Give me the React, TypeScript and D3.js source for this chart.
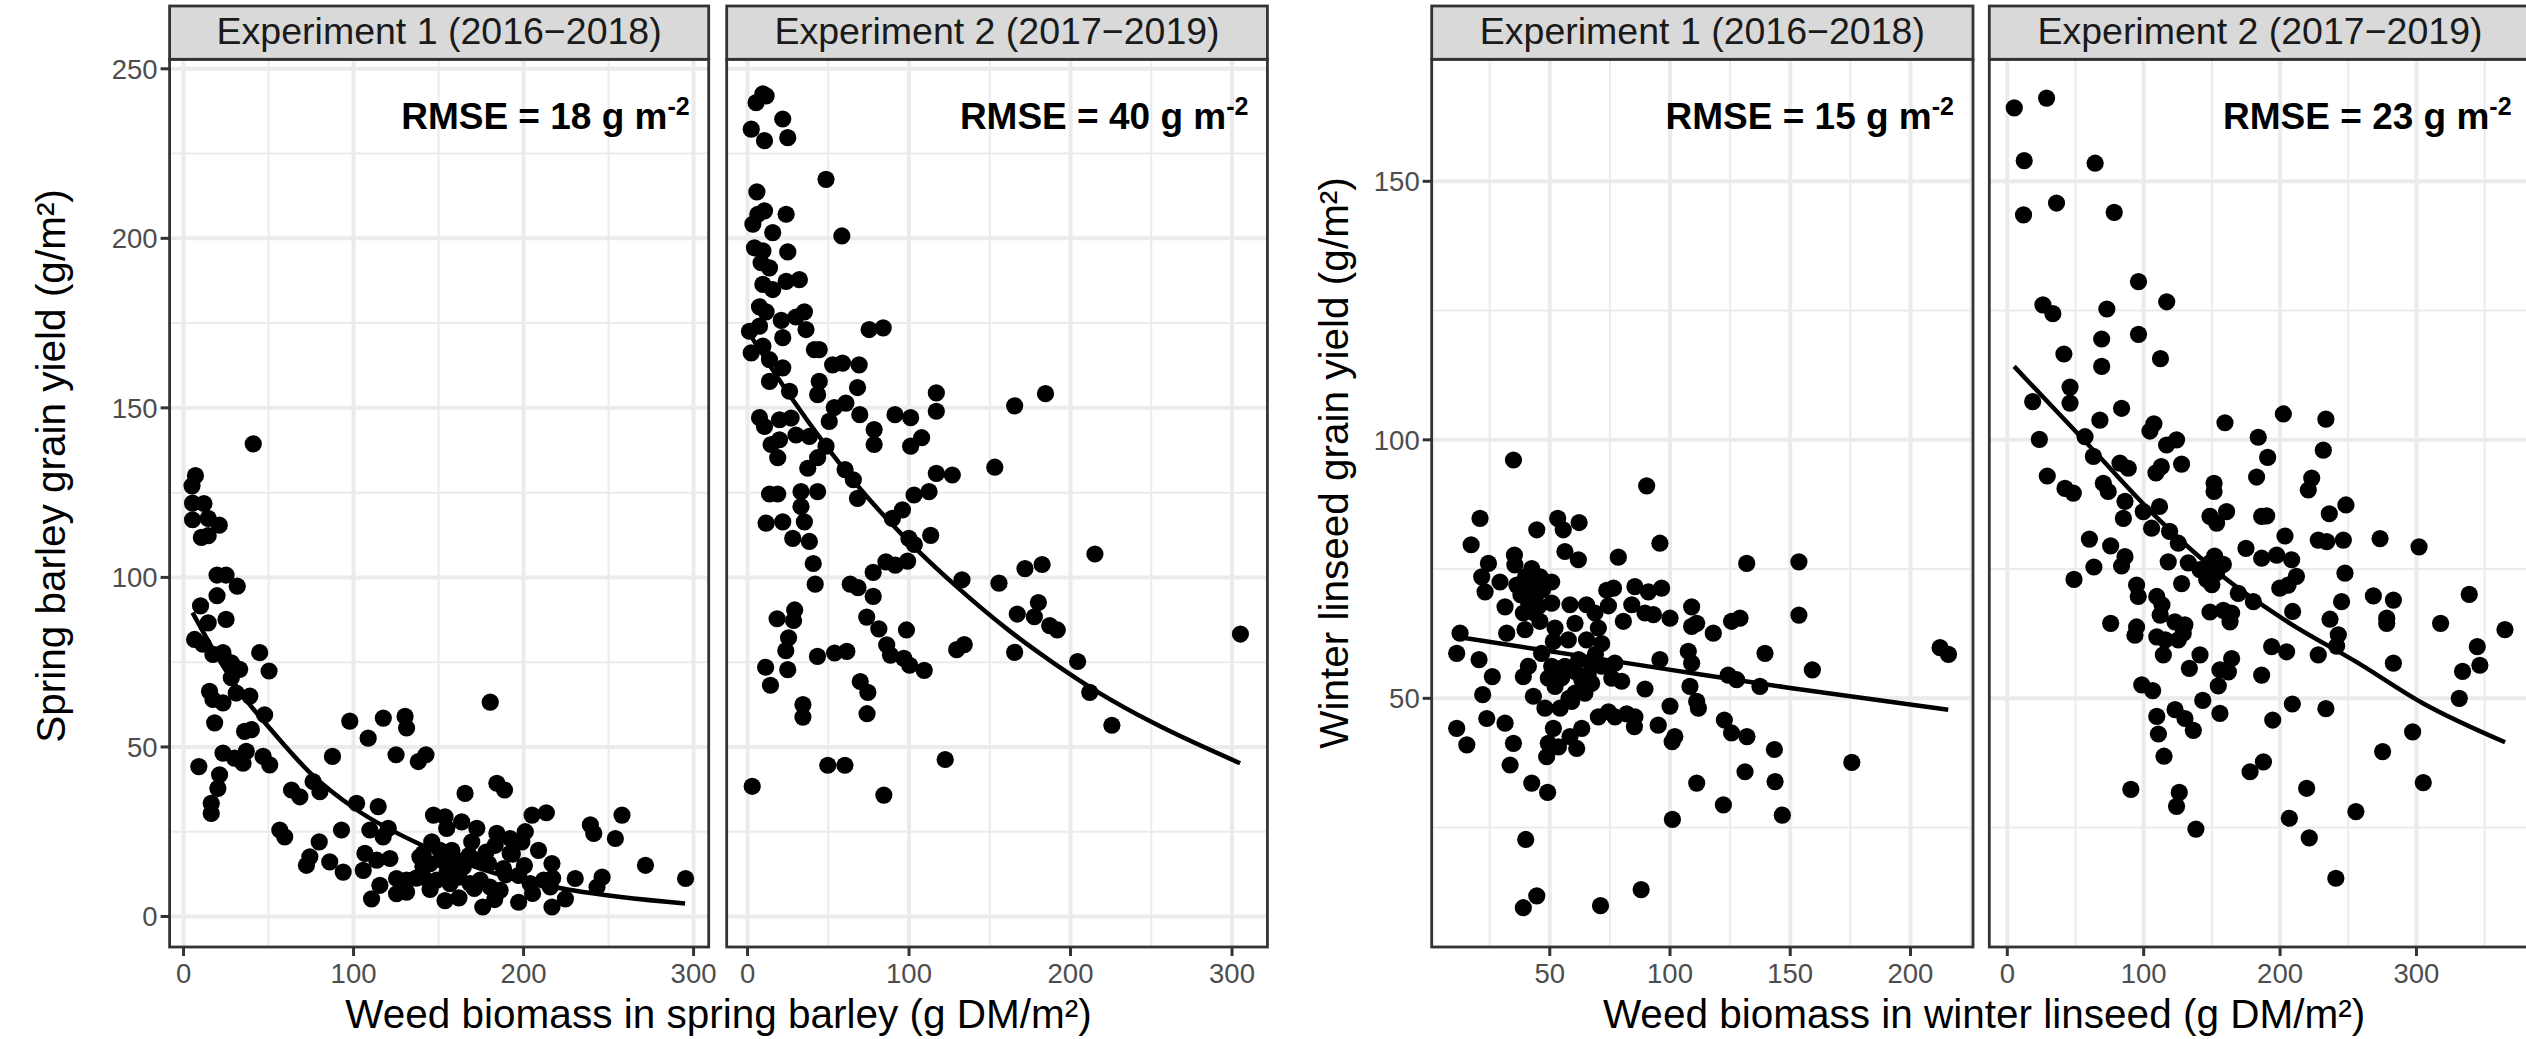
import React from 'react';
import * as d3 from 'd3';

// ---------- DATA ----------
// Spring barley, Experiment 1: [weed biomass g DM/m², grain yield g/m²]
const barleyExp1: [number, number][] = [
  [41,139.4],[7,130],[5,127],[5.3,121.9],[12,121.8],[5.3,117],[14.5,117.4],[21,115.4],[10.5,111.8],[14.5,112.3],
  [19.7,100.7],[25,100.7],[31.6,97.4],[19.7,94.6],[10,91.6],[14.5,86.6],[25,87.6],
  [147,29.9],[153.8,29.4],[154.8,26],[163.6,27.9],[172.5,26],[169.5,22],[146,22],[150.9,19.5],[157.8,19.5],
  [141,18.6],[139,17.6],[145,15.6],[151.9,16.6],[160.7,16.6],[164.6,14.6],[173.5,16.6],[179.4,15.6],[184.3,24.5],
  [183.3,21],[192.1,23],[201,25],[205,29.9],[213.4,30.6],[199,22],[208.8,19.5],[188.2,14.1],[192.1,18.6],[197.1,12.1],
  [216.7,15.6],[230.4,11.2],[246.2,11.6],[243.2,8.7],[239.3,27],[241.3,24.5],[254,23],[257.9,29.9],[271.7,15.1],
  [295.3,11.2],[125.3,11.2],[131.2,10.7],[141,11.6],[148.9,10.7],[156.8,9.7],[162,11.6],[168.6,9.7],[174.5,10.7],
  [180.3,8.7],[186.2,7.7],[203.9,9.7],[211.8,10.7],[215.7,8.7],[224.6,5.2],[216.7,2.8],[197.1,4.2],[176,2.8],
  [153.8,4.7],[110.6,5.2],[115.5,9.2],[125.3,6.7],[131.2,7.2],[105.7,13.6],[93.9,13.1],[86,16.1],[72.3,15.1],
  [74.3,17.6],[79.8,22],[92.9,25.5],[106.7,18.6],[113.6,16.6],[121.4,17.1],[109.6,25.5],[117.4,23.5],[120.4,26],
  [114.5,32.4],[101.8,33.4],[56.6,25.5],[59.5,23.5],[63.5,37.3],[68.4,35.3],[76.2,39.8],[80.2,36.8],[87.6,47.2],
  [97.8,57.6],[108.6,52.6],[117.5,58.5],[130.3,59],[131.2,55.6],[125,47.7],[138.1,45.7],[142.6,47.7],[165.6,36.3],
  [184.3,39.3],[188.8,37.3],[180.4,63.2],[9,44.2],[21.2,41.8],[20.2,37.8],[16.3,33.4],[16.3,30.4],[23.2,48.2],
  [30,46.7],[35,45.2],[36.9,48.7],[46.8,47.2],[50.7,44.7],[18.3,57.1],[35.9,54.6],[39.9,55.1],[15.3,66.4],
  [17.3,64],[23.2,63],[28.1,70.4],[33,72.9],[31,65.9],[39,65],[47.7,59.5],[44.8,77.8],[50.3,72.4],[6.5,81.7],
  [11.4,80.3],[17.3,77.3],[23.2,77.8],[28.1,74.8],
  [136.8,11.3],[140.8,14.8],[157.9,15.4],[171,8.3],[189.5,12.3],[193.4,18.4],[217.1,11.3],[205.3,6.8],
  [200.5,15],[178,19],[168,18],[155,13],[162,5.5],[145,8],[183,5]
];

// Spring barley, Experiment 2
const barleyExp2: [number, number][] = [
  [11.5,242],[5.3,240],[9.5,242.6],[21.8,235.2],[2.3,232.2],[10.5,228.8],[24.9,229.7],[48.6,217.4],[5.8,213.7],
  [6.4,207.1],[10.5,208.1],[3.3,204.2],[23.9,207.1],[15.6,201.7],[58.4,200.7],[4.3,197.2],[9.5,196.3],[24.9,196],
  [8.4,192.8],[13.6,191.3],[9.5,186.4],[15.6,184.9],[23.9,187.3],[32.1,187.8],[7.4,179.8],[11.5,178.3],[20.9,175.8],
  [30,176.8],[35.2,178.3],[1.2,172.6],[7.4,174.1],[21.8,170.7],[36.2,173.1],[2.3,166.2],[9.5,168.2],[13.6,164.2],
  [41.4,167.2],[44.4,167.2],[75.3,173.1],[84,173.6],[21.8,161.8],[13.6,157.8],[26,154.9],[44.4,157.8],[43.4,153.9],
  [52.7,162.7],[58.8,163.2],[69.1,162.7],[68.1,156],[53.7,150.1],[60.9,151.4],[50.6,146],[69.5,148],[91.3,148],
  [101,147.1],[116.9,154.4],[116.9,149],[165.4,150.6],[184.5,154.2],[78.4,143.6],[78.4,139.2],[101,138.7],[107.8,141.2],
  [7.4,147.1],[10.5,144.5],[19.8,146.5],[27,147],[14.6,139.2],[19.8,140.6],[30,142],[38.3,141.6],[18.7,135.3],
  [48.6,138.7],[37.3,132.2],[43.4,135.3],[60.4,131.8],[65.5,128.8],[68.1,123.3],[13.6,124.6],[18.7,124.6],
  [33.1,125.3],[43.4,125.3],[33.1,120.9],[11.5,116],[21.8,116.4],[35.2,116.4],[28,111.5],[38.3,110.6],[95.9,119.9],
  [103.1,124.3],[112.4,125.3],[116.9,130.7],[126.8,130.2],[153.1,132.5],[89.7,117.4],[99.9,111.5],[113.4,112.4],
  [103.3,109.7],[40.7,104.1],[41.9,98],[215.1,106.9],[132.8,99.3],[155.7,98.3],[171.8,102.6],[182.4,103.8],
  [180.1,92.6],[167,89.2],[177.6,88.4],[187.1,85.8],[191.8,84.5],[305.2,83.3],[85.7,104.6],[91.5,103.6],[99.1,104.8],
  [77.8,101.5],[63.6,98],[68.4,97],[77.8,94.4],[73.8,88.3],[81.3,84.8],[98.4,84.5],[86.2,80.1],[88.5,77.1],
  [96.8,76.1],[100.4,74.1],[109.4,72.6],[129.5,78.7],[134.2,80.2],[165.4,77.9],[204.4,75.2],[211.9,66.1],
  [225.6,56.4],[18.3,87.8],[29.2,90.4],[28.5,87.3],[25.4,82.2],[23.7,78.4],[24.9,72.8],[11.2,73.5],[14.2,68.2],
  [43.3,76.7],[53.9,77.7],[61.5,78.2],[69.8,69.3],[74.5,66.1],[74,59.8],[34.3,62.5],[34.3,58.8],[49.7,44.6],
  [60.3,44.6],[122.4,46.3],[2.9,38.4],[84.4,35.8]
];

// Winter linseed, Experiment 1
const linseedExp1: [number, number][] = [
  [90.3,91.1],[34.9,96.1],[21,84.8],[17.3,79.7],[44.6,82.6],[53.3,84.8],[55.6,82.6],[62.2,84],[56.3,78.4],
  [61.9,76.8],[95.8,80],[78.5,77.3],[131.9,76.1],[153.6,76.4],[153.6,66.1],[24.5,76.1],[21.7,73.5],[23.1,70.6],
  [35.3,77.7],[35.5,75.8],[29.3,72.5],[36.3,71.9],[42.5,75.1],[46,73.5],[50.8,72.5],[42.5,71.1],[41.1,68.7],
  [45.3,67.8],[50.8,68.4],[43.2,66.6],[31.4,67.7],[58.4,68.1],[65.3,68.1],[68.8,66.5],[73.7,70.9],[76.5,71.3],
  [85.4,71.6],[91,70.6],[96.5,71.3],[84.1,68.1],[74.4,67.9],[89.6,66.5],[93.1,66.2],[80.6,64.9],[100,65.5],
  [109,67.7],[109,63.9],[111.1,64.5],[118,62.6],[125.6,64.9],[129.1,65.5],[12.7,62.6],[32.1,62.6],[39.7,63.3],
  [45.9,64.9],[52.2,63.6],[60.5,64.5],[65.3,61.3],[70.2,63.6],[71.6,60.6],[51.5,61],[57.7,61.3],[46.6,58.7],
  [11.3,58.7],[20.6,57.5],[26.1,54.2],[39,54.2],[41.1,56.2],[50.8,56.2],[56.3,56.2],[49.4,53.9],[52.2,52.3],
  [60.5,55.2],[63.3,53.6],[67.4,56.2],[71.6,56.2],[60.5,51],[64.6,51],[67.4,52.9],[75.8,53.9],[79.9,53.3],
  [77.1,56.8],[95.8,57.5],[107.6,59.1],[109,56.8],[139.5,58.7],[159.2,55.5],[124.2,54.5],[127.7,53.6],
  [137.4,52.3],[108.3,52.3],[89.6,51.8],[22.1,50.7],[43.2,50.4],[48,48.1],[54.3,48.1],[59.1,49.4],[100,48.5],
  [111.1,49.4],[111.8,48.1],[23.8,46.1],[31.4,45.2],[11.3,44.2],[15.5,41],[34.9,41.3],[33.5,37.1],[70.2,46.4],
  [74.4,47.4],[77.1,46.4],[82,47],[85.4,46.4],[85.2,44.5],[95.1,44.8],[51.5,44.2],[49.4,41.3],[53.6,40.6],
  [48.7,38.7],[58.4,42.6],[63.3,44.2],[61.2,40.3],[102,42.6],[100.9,41.6],[122.6,45.8],[125.6,43.3],[132,42.6],
  [143.4,40.1],[131.2,35.8],[143.7,33.9],[175.6,37.6],[111.1,33.6],[122.2,29.4],[101,26.6],[146.7,27.4],
  [42.5,33.6],[49.1,31.8],[40,22.7],[88,13],[44.6,11.8],[212.3,59.8],[215.8,58.5],[39,9.5],[71.1,9.9],
  [38,70],[40,73.5],[44,69.5],[47,71],[39,66.5],[55,54],[62,57.5],[66,54.5],[58,50],[69,58.5]
];

// Winter linseed, Experiment 2
const linseedExp2: [number, number][] = [
  [5.1,164.2],[28.8,166.1],[12.4,154],[64.4,153.5],[11.9,143.5],[36.1,145.8],[78.4,144],[96.2,130.6],[116.9,126.7],
  [26.1,126.1],[33.4,124.4],[73,125.3],[96.2,120.4],[69.2,119.5],[41.5,116.6],[69.2,114.2],[112.3,115.7],
  [18.6,107.4],[46,110.2],[46,107.1],[67.9,103.8],[83.8,106.1],[23.5,100.1],[57,100.6],[63.1,96.8],[82.6,95.5],
  [88.7,94.5],[29.3,93],[42.3,90.6],[48.4,89.7],[70.4,91.6],[74,90],[86.3,88.1],[85.1,84.8],[99.7,86.1],
  [104.6,101.7],[107.5,103.1],[116.8,99],[124.1,100],[127.8,95.3],[109,93.6],[112.9,94.8],[111.6,87.1],[105.8,82.9],
  [119,82.3],[125.4,80],[60.2,80.8],[75.8,79.5],[63.5,75.4],[86.3,77.4],[83.8,75.6],[48.9,73],[118,76.4],
  [132.7,76.2],[127.8,72.2],[94.8,71.9],[96,69.7],[109.6,69.7],[113.4,68.1],[112.1,66.1],[148.6,76.2],[141.3,74.9],
  [146.2,73],[153.5,74.3],[158.4,75.9],[150,72],[155,76],[152,77.5],[159.6,103.3],[151.6,91.6],[151.6,90],
  [160.8,86.1],[148.6,85.2],[153.5,83.9],[175,79],[186.5,77.1],[197.5,77.7],[208.5,76.8],[203.6,81.4],[202.4,105],
  [184,100.5],[190.9,96.6],[182.8,92.8],[186.5,85.2],[190.2,85.3],[233.6,104],[231.7,98],[223.2,92.6],[220.7,90.3],
  [248.3,87.4],[236.1,85.7],[228,80.6],[234.2,80.3],[246.4,80.6],[247.6,74.2],[273.3,80.9],[301.9,79.3],[212,73.6],
  [205.9,71.9],[199.8,71.3],[209.2,66.8],[245.1,68.7],[236.6,65.3],[242.7,62.3],[241.5,60.1],[228,58.4],[268.4,69.8],
  [283.1,69],[278.2,65.5],[278.2,64.5],[283.1,56.8],[317.7,64.5],[338.7,70.1],[344.6,60],[346.5,56.4],[333.8,55.2],
  [331.4,50],[364.9,63.3],[297.2,43.5],[275.2,39.7],[305,33.7],[255.6,28.1],[219.5,32.6],[221.4,23],[206.8,26.8],
  [240.9,15.2],[233.6,48],[209,48.9],[194.6,45.8],[187.8,37.7],[178,35.8],[186.5,54.5],[193.8,60],[204.8,59],
  [169.4,70.3],[180.4,68.7],[148.6,66.7],[158.4,67],[164.5,66.5],[163.3,64.8],[122.9,64.8],[130.2,64.2],[129,62.6],
  [125.4,61.3],[109.6,61.9],[115.8,61.3],[114.4,58.4],[94.8,63.8],[93.6,62.2],[75.8,64.5],[141.3,58.4],[133.5,55.8],
  [164.5,57.7],[162.1,55.1],[155.9,55.5],[154.7,52.4],[98.6,52.6],[106.6,51.5],[143.3,49.6],[155.9,47.1],
  [109.6,46.5],[123,47.8],[130.3,46.1],[136.4,43.8],[110.8,43.1],[114.9,38.8],[90.6,32.4],[126.1,31.8],[124.1,29.1],
  [138.3,24.7]
];

// Fitted curves
const barleyFit1: [number, number][] = [
  [5.3,89.6],[20,76.5],[36.9,63.8],[50.7,55.5],[74,42.6],[102,31.4],[139,21.3],[188,12],[228,7.8],[295,3.8]
];
const barleyFit2: [number, number][] = [
  [3,170.5],[26.5,153.4],[48.6,138.8],[70,126],[100,110.5],[129,97.5],[162,84.3],[190,74.6],[219,65.6],[250,57.4],[305,45.2]
];
const linseedFit1: [number, number][] = [[12.6,61.8],[60,58.4],[99,55.6],[150,52],[215.7,47.8]];
const linseedFit2: [number, number][] = [
  [5,114.2],[60.6,98.7],[109.5,85],[158.4,73.5],[207.3,64.5],[256.2,57],[305,49],[365,41.5]
];

const stripLabels = ['Experiment 1 (2016\u22122018)', 'Experiment 2 (2017\u22122019)'];
const rmseValues = [18, 40, 15, 23];

const barleyYTicks = [0, 50, 100, 150, 200, 250];
const barleyYMinor = [25, 75, 125, 175, 225];
const barleyXTicks = [0, 100, 200, 300];
const barleyXMinor = [50, 150, 250];
const linseedYTicks = [50, 100, 150];
const linseedYMinor = [25, 75, 125];
const linseed1XTicks = [50, 100, 150, 200];
const linseed1XMinor = [25, 75, 125, 175, 225];
const linseed2XTicks = [0, 100, 200, 300];
const linseed2XMinor = [50, 150, 250, 350];

const yTitles = ['Spring barley grain yield (g/m\u00b2)', 'Winter linseed grain yield (g/m\u00b2)'];
const xTitles = ['Weed biomass in spring barley (g DM/m\u00b2)', 'Weed biomass in winter linseed (g DM/m\u00b2)'];

// ---------- LAYOUT ----------
const W = 2526;
const H = 1039;
const FONT = "'Liberation Sans', Arial, Helvetica, sans-serif";
const PANEL_TOP = 59.3;
const PANEL_BOTTOM = 947;
const STRIP_TOP = 6;
const GRID = '#EBEBEB';
const DARK = '#333333';

type PanelSpec = {
  left: number; right: number;
  xDomain: [number, number]; yDomain: [number, number];
  xTicks: number[]; xMinor: number[]; yTicks: number[]; yMinor: number[];
  data: [number, number][]; fit: [number, number][];
  strip: string; rmse: number; showY: boolean;
};

const panels: PanelSpec[] = [
  { left: 169.6, right: 708.7, xDomain: [-8.2, 308.9], yDomain: [-9.0, 252.8],
    xTicks: barleyXTicks, xMinor: barleyXMinor, yTicks: barleyYTicks, yMinor: barleyYMinor,
    data: barleyExp1, fit: barleyFit1, strip: stripLabels[0], rmse: rmseValues[0], showY: true },
  { left: 726.7, right: 1267.4, xDomain: [-12.9, 321.9], yDomain: [-9.0, 252.8],
    xTicks: barleyXTicks, xMinor: barleyXMinor, yTicks: barleyYTicks, yMinor: barleyYMinor,
    data: barleyExp2, fit: barleyFit2, strip: stripLabels[1], rmse: rmseValues[1], showY: false },
  { left: 1431.7, right: 1973, xDomain: [0.9, 226], yDomain: [1.9, 173.6],
    xTicks: linseed1XTicks, xMinor: linseed1XMinor, yTicks: linseedYTicks, yMinor: linseedYMinor,
    data: linseedExp1, fit: linseedFit1, strip: stripLabels[0], rmse: rmseValues[2], showY: true },
  { left: 1989.3, right: 2530.6, xDomain: [-13.2, 383.7], yDomain: [1.9, 173.6],
    xTicks: linseed2XTicks, xMinor: linseed2XMinor, yTicks: linseedYTicks, yMinor: linseedYMinor,
    data: linseedExp2, fit: linseedFit2, strip: stripLabels[1], rmse: rmseValues[3], showY: false },
];

function Panel({ p, idx }: { p: PanelSpec; idx: number }) {
  const x = d3.scaleLinear().domain(p.xDomain).range([p.left, p.right]);
  const y = d3.scaleLinear().domain(p.yDomain).range([PANEL_BOTTOM, PANEL_TOP]);
  const inX = (v: number) => v >= p.xDomain[0] && v <= p.xDomain[1];
  const inY = (v: number) => v >= p.yDomain[0] && v <= p.yDomain[1];
  const line = d3.line<[number, number]>().x(d => x(d[0])).y(d => y(d[1])).curve(d3.curveMonotoneX);
  const clipId = `clip-${idx}`;
  return (
    <g>
      <defs>
        <clipPath id={clipId}>
          <rect x={p.left} y={PANEL_TOP} width={p.right - p.left} height={PANEL_BOTTOM - PANEL_TOP} />
        </clipPath>
      </defs>
      <g clipPath={`url(#${clipId})`}>
        {p.yMinor.filter(inY).map(v => (
          <line key={'ym' + v} x1={p.left} x2={p.right} y1={y(v)} y2={y(v)} stroke={GRID} strokeWidth={2} />
        ))}
        {p.xMinor.filter(inX).map(v => (
          <line key={'xm' + v} x1={x(v)} x2={x(v)} y1={PANEL_TOP} y2={PANEL_BOTTOM} stroke={GRID} strokeWidth={2} />
        ))}
        {p.yTicks.filter(inY).map(v => (
          <line key={'yM' + v} x1={p.left} x2={p.right} y1={y(v)} y2={y(v)} stroke={GRID} strokeWidth={4} />
        ))}
        {p.xTicks.filter(inX).map(v => (
          <line key={'xM' + v} x1={x(v)} x2={x(v)} y1={PANEL_TOP} y2={PANEL_BOTTOM} stroke={GRID} strokeWidth={4} />
        ))}
        {p.data.map((d, i) => (
          <circle key={i} cx={x(d[0])} cy={y(d[1])} r={8.6} fill="#000" />
        ))}
        <path d={line(p.fit) || ''} fill="none" stroke="#000" strokeWidth={4.5} />
        <text x={p.right - 19} y={129} textAnchor="end" fontFamily={FONT} fontWeight="bold" fontSize={37} fill="#000">
          {`RMSE = ${p.rmse} g m`}
          <tspan fontSize={25} dy={-14}>-2</tspan>
        </text>
      </g>
      <rect x={p.left} y={PANEL_TOP} width={p.right - p.left} height={PANEL_BOTTOM - PANEL_TOP}
        fill="none" stroke={DARK} strokeWidth={2.8} />
      <rect x={p.left} y={STRIP_TOP} width={p.right - p.left} height={PANEL_TOP - STRIP_TOP}
        fill="#D9D9D9" stroke={DARK} strokeWidth={2.8} />
      <text x={(p.left + p.right) / 2} y={44} textAnchor="middle" fontFamily={FONT} fontSize={37.5} fill="#1A1A1A">
        {p.strip}
      </text>
      {p.xTicks.filter(inX).map(v => (
        <g key={'xt' + v}>
          <line x1={x(v)} x2={x(v)} y1={PANEL_BOTTOM} y2={PANEL_BOTTOM + 9} stroke={DARK} strokeWidth={3} />
          <text x={x(v)} y={983} textAnchor="middle" fontFamily={FONT} fontSize={27.5} fill="#4D4D4D">{v}</text>
        </g>
      ))}
      {p.showY && p.yTicks.filter(inY).map(v => (
        <g key={'yt' + v}>
          <line x1={p.left - 9} x2={p.left} y1={y(v)} y2={y(v)} stroke={DARK} strokeWidth={3} />
          <text x={p.left - 12} y={y(v)} dy="0.36em" textAnchor="end" fontFamily={FONT} fontSize={27.5} fill="#4D4D4D">{v}</text>
        </g>
      ))}
    </g>
  );
}

export default function App() {
  React.useEffect(() => {
    document.body.style.margin = '0';
    document.body.style.overflow = 'hidden';
  }, []);
  return (
    <svg width={W} height={H} viewBox={`0 0 ${W} ${H}`}
      style={{ position: 'absolute', left: 0, top: 0, background: '#fff' }}>
      <rect x={0} y={0} width={W} height={H} fill="#fff" />
      {panels.map((p, i) => <Panel key={i} p={p} idx={i} />)}
      <text transform="translate(65,466) rotate(-90)" textAnchor="middle" fontFamily={FONT} fontSize={40.5} fill="#000">
        {yTitles[0]}
      </text>
      <text transform="translate(1348,463) rotate(-90)" textAnchor="middle" fontFamily={FONT} fontSize={40.5} fill="#000">
        {yTitles[1]}
      </text>
      <text x={718.5} y={1028} textAnchor="middle" fontFamily={FONT} fontSize={40.5} fill="#000">{xTitles[0]}</text>
      <text x={1984} y={1028} textAnchor="middle" fontFamily={FONT} fontSize={40.5} fill="#000">{xTitles[1]}</text>
    </svg>
  );
}
